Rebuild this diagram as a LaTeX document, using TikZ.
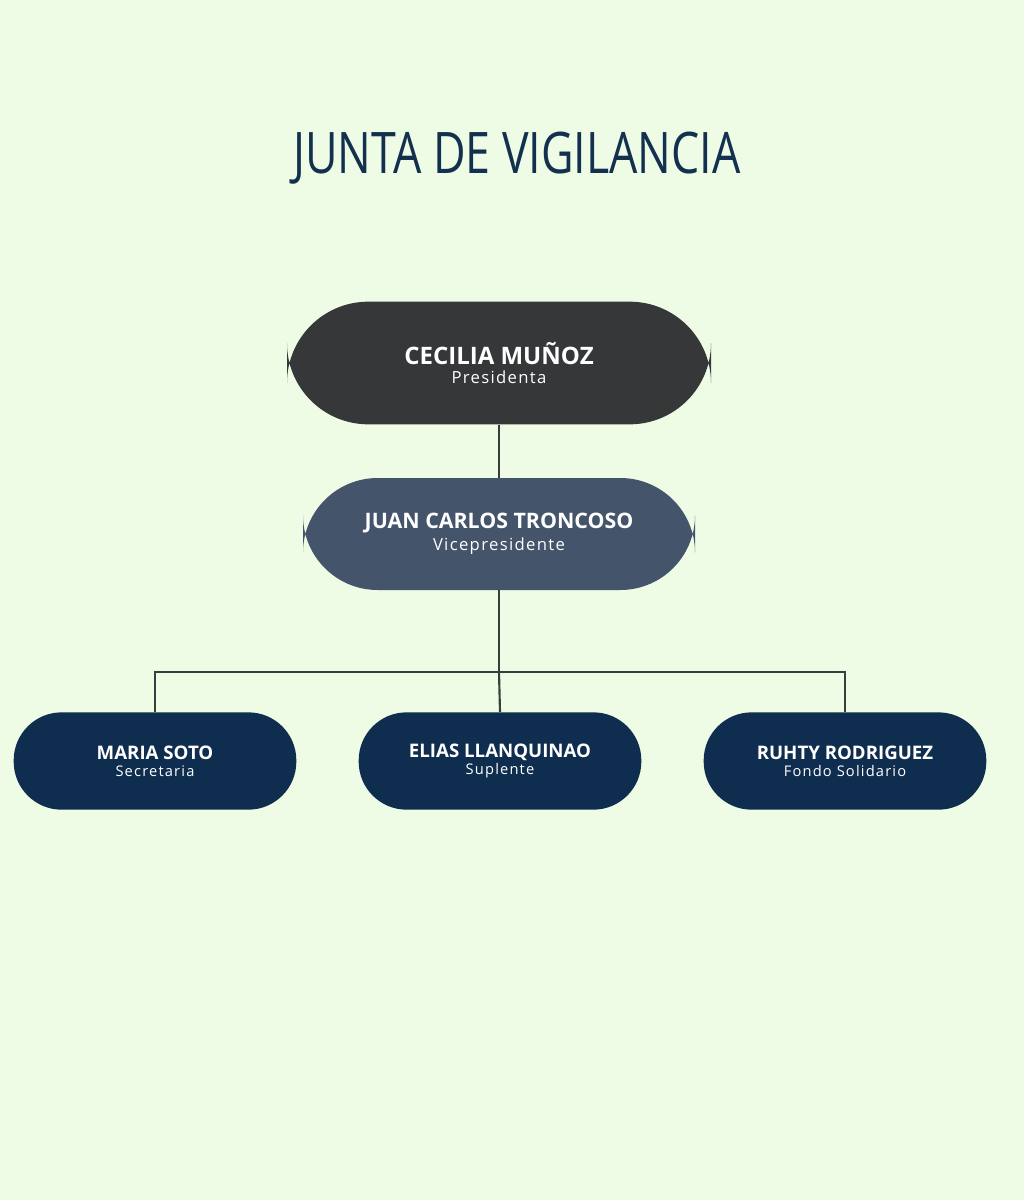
\documentclass[tikz,border=0pt]{standalone}
\usepackage{fontspec}
\setmainfont{Open Sans}
\newfontfamily\titlefont[FakeStretch=0.78]{Open Sans}
\newfontfamily\rolefont[LetterSpace=8]{Open Sans}
\usetikzlibrary{positioning}
\definecolor{bgcol}{HTML}{EEFCE6}
\definecolor{titlecol}{HTML}{14304F}
\definecolor{topcol}{HTML}{363739}
\definecolor{vicecol}{HTML}{44546A}
\definecolor{membercol}{HTML}{0F2D4F}
\definecolor{linecol}{HTML}{3A3D40}
\tikzset{
  box/.style={rounded corners=#1, text=white, align=center, inner sep=0pt},
  link/.style={draw=linecol, line width=1.6pt}
}
\begin{document}
\begin{tikzpicture}[x=0.75pt,y=-0.75pt]
  \fill[bgcol] (0,0) rectangle (1024,1200);
  \useasboundingbox (0,0) rectangle (1024,1200);
  \node[text=titlecol, font=\titlefont\fontsize{43}{50}\selectfont] (title) at (517,158) {JUNTA DE VIGILANCIA};
  % boxes
  \node[box=61pt, fill=topcol, minimum width=318pt, minimum height=92pt] (pres) at (499,363)
    {\fontsize{18}{22}\selectfont\bfseries CECILIA MUÑOZ\\[2pt]{\rolefont\fontsize{12.5}{15}\selectfont Presidenta}};
  \node[box=56pt, fill=vicecol, minimum width=294pt, minimum height=84pt] (vice) at (499,534)
    {\fontsize{16}{20}\selectfont\bfseries JUAN CARLOS TRONCOSO\\[3pt]{\rolefont\fontsize{12.5}{15}\selectfont Vicepresidente}};
  \node[box=36pt, fill=membercol, minimum width=212pt, minimum height=73pt] (sec) at (155,761)
    {\fontsize{14}{17}\selectfont\bfseries MARIA SOTO\\[1pt]{\rolefont\fontsize{11}{13}\selectfont Secretaria}};
  \node[box=36pt, fill=membercol, minimum width=212pt, minimum height=73pt] (sup) at (500,761)
    {\fontsize{14}{17}\selectfont\bfseries ELIAS LLANQUINAO\\[1pt]{\rolefont\fontsize{11}{13}\selectfont Suplente}};
  \node[box=36pt, fill=membercol, minimum width=212pt, minimum height=73pt] (fondo) at (845,761)
    {\fontsize{14}{17}\selectfont\bfseries RUHTY RODRIGUEZ\\[1pt]{\rolefont\fontsize{11}{13}\selectfont Fondo Solidario}};
  % connectors
  \coordinate (split) at (499,672);
  \draw[link] (pres.south) -- (vice.north);
  \draw[link] (vice.south) -- (split);
  \draw[link] (split) -| (sec.north);
  \draw[link] (split) -| (fondo.north);
  \draw[link] (split) -- (sup.north);
\end{tikzpicture}
\end{document}
